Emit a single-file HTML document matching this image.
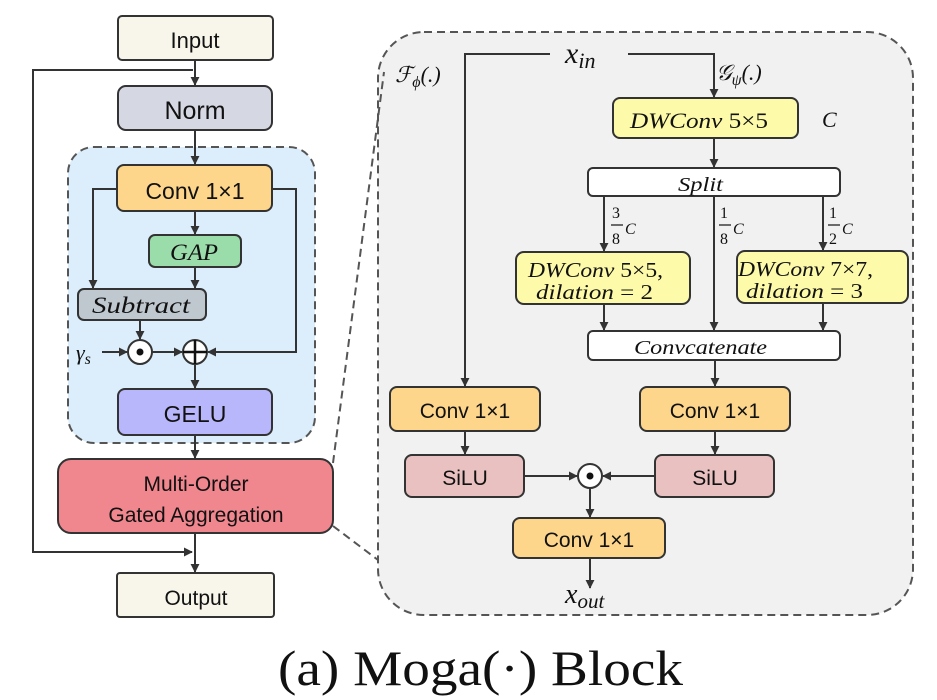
<!DOCTYPE html>
<html><head><meta charset="utf-8"><style>
html,body{margin:0;padding:0;background:#fff;}
svg{display:block;}
.s{font-family:"Liberation Sans",sans-serif;fill:#111;}
.m{font-family:"Liberation Serif","DejaVu Serif",serif;font-style:italic;fill:#111;}
</style></head><body>
<svg width="937" height="700" viewBox="0 0 937 700" xmlns="http://www.w3.org/2000/svg">
<defs>
<marker id="a" viewBox="0 0 10 10" refX="9" refY="5" markerWidth="9" markerHeight="9" markerUnits="userSpaceOnUse" orient="auto">
<path d="M0,0 L10,5 L0,10 z" fill="#333"/></marker>
</defs>
<g stroke="#333" stroke-width="2" fill="none">
<rect x="68" y="147" width="247" height="296" rx="26" fill="#dceefb" stroke="#555" stroke-dasharray="8,5"/>
<rect x="378" y="32" width="535" height="583" rx="46" fill="#f1f1f1" stroke="#555" stroke-dasharray="8,5"/>
<line x1="333" y1="463" x2="384" y2="72" stroke="#555" stroke-dasharray="8,5"/>
<line x1="333" y1="526" x2="378" y2="560" stroke="#555" stroke-dasharray="8,5"/>
<line x1="195" y1="60" x2="195" y2="85" marker-end="url(#a)"/>
<polyline points="193,70 33,70 33,552 192,552" marker-end="url(#a)"/>
<line x1="195" y1="130" x2="195" y2="164" marker-end="url(#a)"/>
<line x1="195" y1="211" x2="195" y2="234" marker-end="url(#a)"/>
<line x1="195" y1="267" x2="195" y2="288" marker-end="url(#a)"/>
<polyline points="117,189 93,189 93,288" marker-end="url(#a)"/>
<polyline points="272,189 296,189 296,352 208,352" marker-end="url(#a)"/>
<line x1="140" y1="320" x2="140" y2="339" marker-end="url(#a)"/>
<line x1="102" y1="352" x2="127" y2="352" marker-end="url(#a)"/>
<line x1="152" y1="352" x2="182" y2="352" marker-end="url(#a)"/>
<line x1="195" y1="364" x2="195" y2="388" marker-end="url(#a)"/>
<line x1="195" y1="435" x2="195" y2="458" marker-end="url(#a)"/>
<line x1="195" y1="533" x2="195" y2="572" marker-end="url(#a)"/>
<rect x="118" y="16" width="155" height="44" rx="4" fill="#f8f6ea"/>
<rect x="118" y="86" width="154" height="44" rx="8" fill="#d5d8e3"/>
<rect x="117" y="165" width="155" height="46" rx="7" fill="#fdd68b"/>
<rect x="149" y="235" width="92" height="32" rx="6" fill="#9bdcab"/>
<rect x="78" y="289" width="128" height="31" rx="6" fill="#bfc8cf"/>
<circle cx="140" cy="352" r="12" fill="#fff"/>
<circle cx="195" cy="352" r="12" fill="#fff"/>
<rect x="118" y="389" width="154" height="46" rx="7" fill="#b9b7fb"/>
<rect x="58" y="459" width="275" height="74" rx="13" fill="#f0878f"/>
<rect x="117" y="573" width="157" height="44" rx="3" fill="#f8f6ea"/>
<polyline points="550,54 465,54 465,386" marker-end="url(#a)"/>
<polyline points="628,54 714,54 714,97" marker-end="url(#a)"/>
<line x1="714" y1="138" x2="714" y2="167" marker-end="url(#a)"/>
<line x1="604" y1="196" x2="604" y2="251" marker-end="url(#a)"/>
<line x1="714" y1="196" x2="714" y2="330" marker-end="url(#a)"/>
<line x1="823" y1="196" x2="823" y2="250" marker-end="url(#a)"/>
<line x1="604" y1="304" x2="604" y2="330" marker-end="url(#a)"/>
<line x1="823" y1="303" x2="823" y2="330" marker-end="url(#a)"/>
<line x1="715" y1="360" x2="715" y2="386" marker-end="url(#a)"/>
<line x1="465" y1="431" x2="465" y2="454" marker-end="url(#a)"/>
<line x1="715" y1="431" x2="715" y2="454" marker-end="url(#a)"/>
<line x1="524" y1="476" x2="577" y2="476" marker-end="url(#a)"/>
<line x1="655" y1="476" x2="603" y2="476" marker-end="url(#a)"/>
<line x1="590" y1="488" x2="590" y2="517" marker-end="url(#a)"/>
<line x1="590" y1="558" x2="590" y2="588" marker-end="url(#a)"/>
<rect x="613" y="98" width="185" height="40" rx="7" fill="#fdfaa9"/>
<rect x="588" y="168" width="252" height="28" rx="5" fill="#fff"/>
<rect x="516" y="252" width="174" height="52" rx="8" fill="#fdfaa9"/>
<rect x="737" y="251" width="171" height="52" rx="8" fill="#fdfaa9"/>
<rect x="588" y="331" width="252" height="29" rx="5" fill="#fff"/>
<rect x="390" y="387" width="150" height="44" rx="7" fill="#fdd68b"/>
<rect x="640" y="387" width="150" height="44" rx="7" fill="#fdd68b"/>
<rect x="405" y="455" width="119" height="42" rx="7" fill="#e9c1c0"/>
<rect x="655" y="455" width="119" height="42" rx="7" fill="#e9c1c0"/>
<circle cx="590" cy="476" r="12" fill="#fff"/>
<rect x="513" y="518" width="152" height="40" rx="7" fill="#fdd68b"/>
</g>
<path d="M183,352 H207 M195,340 V364" stroke="#111" stroke-width="2.5" fill="none"/>
<circle cx="140" cy="352" r="3.5" fill="#111"/>
<circle cx="590" cy="476" r="3.5" fill="#111"/>
<text class="s" x="195" y="48" font-size="22" text-anchor="middle">Input</text>
<text class="s" x="195" y="119" font-size="25" text-anchor="middle">Norm</text>
<text class="s" x="195" y="199" font-size="23" text-anchor="middle">Conv 1×1</text>
<text class="m" x="170" y="260" font-size="23" textLength="48" lengthAdjust="spacingAndGlyphs">GAP</text>
<text class="m" x="92" y="313" font-size="23" textLength="98" lengthAdjust="spacingAndGlyphs">Subtract</text>
<text class="m" x="76" y="360" font-size="22">γ<tspan font-size="16" dy="4">s</tspan></text>
<text class="s" x="195" y="422" font-size="23" text-anchor="middle">GELU</text>
<text class="s" x="196" y="491" font-size="21" text-anchor="middle">Multi-Order</text>
<text class="s" x="196" y="522" font-size="21" text-anchor="middle">Gated Aggregation</text>
<text class="s" x="196" y="605" font-size="21" text-anchor="middle">Output</text>
<text class="m" x="565" y="63" font-size="30">x<tspan font-size="22" dy="5">in</tspan></text>
<text class="m" x="395" y="82" font-size="22">ℱ<tspan font-size="16" dy="5">ϕ</tspan><tspan dy="-5">(.)</tspan></text>
<text class="m" x="716" y="80" font-size="22">𝒢<tspan font-size="16" dy="5">ψ</tspan><tspan dy="-5">(.)</tspan></text>
<text class="m" x="630" y="128" font-size="22" textLength="138" lengthAdjust="spacingAndGlyphs">DWConv <tspan font-style="normal">5×5</tspan></text>
<text class="m" x="822" y="127" font-size="22">C</text>
<text class="m" x="678" y="191" font-size="20" textLength="45" lengthAdjust="spacingAndGlyphs">Split</text>
<text class="m" x="528" y="277" font-size="21" textLength="135" lengthAdjust="spacingAndGlyphs">DWConv <tspan font-style="normal">5×5,</tspan></text>
<text class="m" x="536" y="299" font-size="21" textLength="117" lengthAdjust="spacingAndGlyphs">dilation <tspan font-style="normal">= 2</tspan></text>
<text class="m" x="738" y="276" font-size="21" textLength="135" lengthAdjust="spacingAndGlyphs">DWConv <tspan font-style="normal">7×7,</tspan></text>
<text class="m" x="746" y="298" font-size="21" textLength="117" lengthAdjust="spacingAndGlyphs">dilation <tspan font-style="normal">= 3</tspan></text>
<text class="m" x="634" y="354" font-size="20" textLength="133" lengthAdjust="spacingAndGlyphs">Convcatenate</text>
<g font-family="Liberation Serif,serif" font-size="16" fill="#111">
<text x="612" y="218">3</text><text x="612" y="244">8</text><line x1="611" y1="225" x2="623" y2="225" stroke="#111" stroke-width="1.2"/><text x="625" y="234" font-style="italic">C</text>
<text x="720" y="218">1</text><text x="720" y="244">8</text><line x1="719" y1="225" x2="731" y2="225" stroke="#111" stroke-width="1.2"/><text x="733" y="234" font-style="italic">C</text>
<text x="829" y="218">1</text><text x="829" y="244">2</text><line x1="828" y1="225" x2="840" y2="225" stroke="#111" stroke-width="1.2"/><text x="842" y="234" font-style="italic">C</text>
</g>
<text class="s" x="465" y="418" font-size="21" text-anchor="middle">Conv 1×1</text>
<text class="s" x="715" y="418" font-size="21" text-anchor="middle">Conv 1×1</text>
<text class="s" x="465" y="485" font-size="21" text-anchor="middle">SiLU</text>
<text class="s" x="715" y="485" font-size="21" text-anchor="middle">SiLU</text>
<text class="s" x="589" y="547" font-size="21" text-anchor="middle">Conv 1×1</text>
<text class="m" x="565" y="603" font-size="28">x<tspan font-size="21" dy="5">out</tspan></text>
<text x="278" y="685" font-family="Liberation Serif,serif" font-size="50" fill="#111" textLength="405" lengthAdjust="spacingAndGlyphs">(a) Moga(·) Block</text>
</svg>
</body></html>
